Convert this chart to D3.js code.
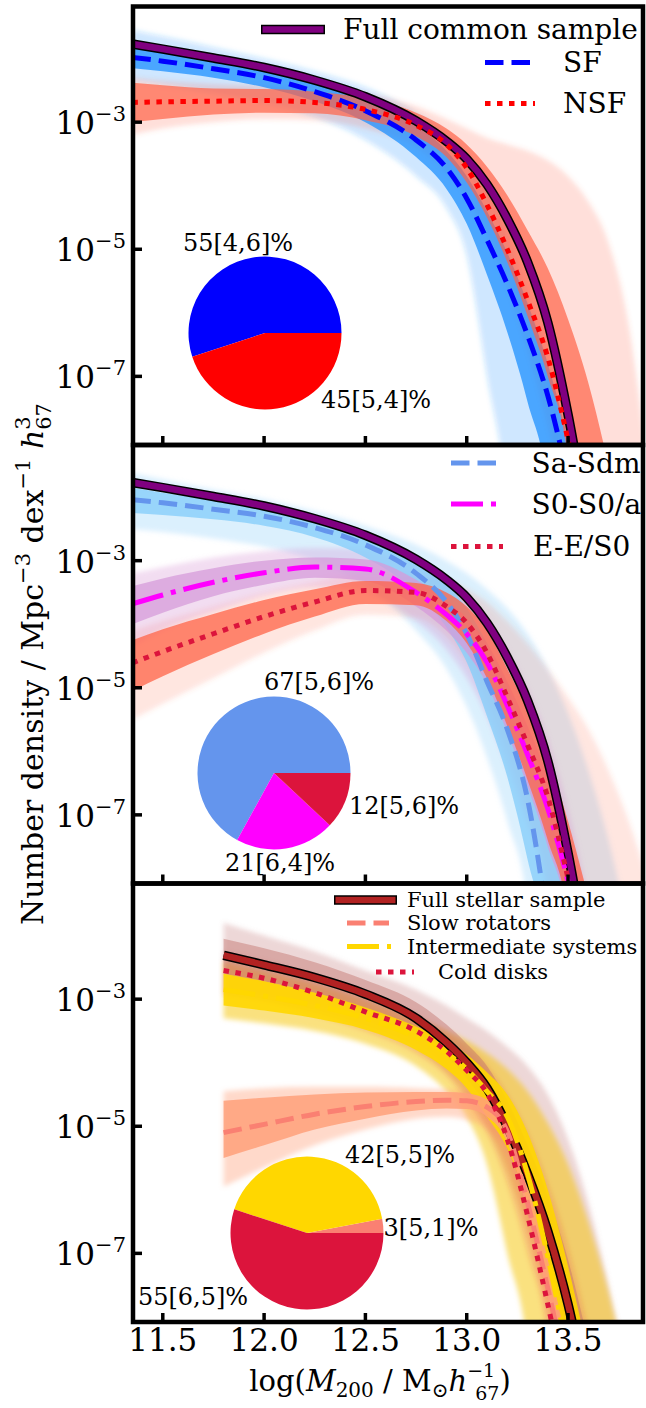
<!DOCTYPE html>
<html>
<head>
<meta charset="utf-8">
<script src="https://cdn.jsdelivr.net/npm/d3@7"></script>
<style>
  body { margin: 0; background: #fff; }
  svg { display: block; }
  text { font-family: "DejaVu Serif", serif; fill: #000; }
</style>
</head>
<body>
<svg id="chart" width="646" height="1408"></svg>
<script>
// ---- data (log10 number density vs log M200) ----
var xsTop = [11.35, 11.5, 11.75, 12.0, 12.25, 12.5, 12.75, 12.9, 13.0, 13.1, 13.2, 13.3, 13.4, 13.5, 13.6, 13.7, 13.8, 13.9];
var xsBottom = [11.8, 12.0, 12.25, 12.5, 12.75, 12.9, 13.0, 13.1, 13.2, 13.3, 13.4, 13.5, 13.6, 13.7, 13.8, 13.9];

// panel 1: full common sample, SF, NSF
var fullCommon = [-1.77, -1.85, -1.99, -2.14, -2.34, -2.6, -2.98, -3.3, -3.58, -3.98, -4.52, -5.2, -6.15, -7.6, -9.4];
var sfMain     = [-1.98, -2.04, -2.16, -2.3, -2.52, -2.82, -3.28, -3.72, -4.2, -4.85, -5.55, -6.35, -7.3, -8.6];
var sfInnerHi  = [-1.82, -1.9, -2.03, -2.17, -2.37, -2.63, -3.05, -3.45, -3.85, -4.4, -5.05, -5.85, -6.8, -8.0, -9.5];
var sfInnerLo  = [-2.15, -2.2, -2.3, -2.45, -2.67, -3.0, -3.55, -4.05, -4.6, -5.4, -6.3, -7.4, -8.8];
var sfOuterHi  = [-1.55, -1.65, -1.82, -2.0, -2.2, -2.45, -2.85, -3.2, -3.55, -4.0, -4.75, -5.7, -6.7, -8.3, -10];
var sfOuterLo  = [-2.35, -2.42, -2.55, -2.7, -2.92, -3.28, -3.85, -4.35, -5.1, -7.0, -9.0];
var nsfMain    = [-2.69, -2.68, -2.67, -2.66, -2.69, -2.8, -3.05, -3.35, -3.72, -4.3, -5.0, -5.8, -6.7, -8.0, -9.5];
var nsfInnerHi = [-2.38, -2.42, -2.47, -2.48, -2.52, -2.62, -2.85, -3.1, -3.35, -3.7, -4.15, -4.7, -5.3, -6.1, -7.1, -8.4];
var nsfInnerLo = [-3.0, -2.95, -2.88, -2.85, -2.86, -2.97, -3.22, -3.55, -3.95, -4.5, -5.2, -6.05, -7.0, -8.3];
var nsfOuterHi = [-2.3, -2.35, -2.4, -2.42, -2.45, -2.55, -2.75, -2.95, -3.1, -3.25, -3.35, -3.45, -3.6, -3.85, -4.25, -4.9, -6.2, -8.6];
var nsfOuterLo = [-3.2, -3.1, -3.0, -2.95, -2.97, -3.1, -3.4, -3.8, -4.2, -4.8, -5.6, -6.6, -7.8, -9.2];

// panel 2: morphology
var saMain     = [-2.04, -2.09, -2.19, -2.3, -2.48, -2.75, -3.2, -3.65, -4.15, -4.9, -5.65, -6.75, -8.7];
var saInnerHi  = [-1.85, -1.93, -2.05, -2.18, -2.35, -2.6, -3.0, -3.35, -3.75, -4.3, -4.95, -5.8, -6.85, -8.2, -9.8];
var saInnerLo  = [-2.25, -2.28, -2.35, -2.45, -2.63, -2.95, -3.5, -4.05, -4.6, -5.45, -6.4, -7.7, -9.3];
var saOuterHi  = [-1.62, -1.72, -1.88, -2.03, -2.22, -2.45, -2.75, -3.0, -3.2, -3.45, -3.75, -4.15, -4.7, -5.4, -6.3, -7.4, -8.8];
var saOuterLo  = [-2.5, -2.55, -2.65, -2.78, -3.0, -3.4, -4.1, -4.7, -5.3, -6.1, -7.1, -8.4];
var s0Main     = [-3.68, -3.54, -3.34, -3.19, -3.1, -3.13, -3.5, -3.85, -4.15, -4.6, -5.28, -6.05, -6.9, -8.05, -9.5];
var s0InnerHi  = [-3.4, -3.28, -3.12, -3.0, -2.95, -2.98, -3.3, -3.62, -3.9, -4.3, -4.9, -5.6, -6.4, -7.4, -8.6];
var s0InnerLo  = [-4.0, -3.82, -3.56, -3.38, -3.27, -3.32, -3.72, -4.1, -4.45, -4.95, -5.7, -6.55, -7.5, -8.7];
var s0OuterHi  = [-3.2, -3.1, -2.95, -2.85, -2.8, -2.82, -3.05, -3.3, -3.55, -3.9, -4.4, -5.0, -5.8, -6.9, -8.3];
var s0OuterLo  = [-4.35, -4.1, -3.8, -3.55, -3.42, -3.5, -3.95, -4.4, -4.85, -5.45, -6.25, -7.15, -8.25];
var eMain      = [-4.61, -4.43, -4.15, -3.88, -3.65, -3.47, -3.5, -3.72, -3.98, -4.45, -5.15, -5.9, -6.72, -8.0, -9.5];
var eInnerHi   = [-4.25, -4.08, -3.84, -3.62, -3.45, -3.32, -3.35, -3.5, -3.72, -4.1, -4.7, -5.35, -6.1, -7.1, -8.3];
var eInnerLo   = [-5.05, -4.82, -4.47, -4.15, -3.88, -3.68, -3.7, -3.95, -4.3, -4.85, -5.6, -6.45, -7.4, -8.6];
var eOuterHi   = [-4.1, -3.95, -3.72, -3.5, -3.33, -3.2, -3.2, -3.3, -3.45, -3.65, -3.95, -4.3, -4.7, -5.15, -5.65, -6.3, -7.1, -8.1];
var eOuterLo   = [-5.5, -5.25, -4.85, -4.45, -4.1, -3.85, -3.9, -4.2, -4.6, -5.2, -6.0, -7.0, -8.2];

// panel 3: kinematic classes
var stellarMain    = [-2.31, -2.46, -2.66, -2.92, -3.3, -3.68, -4.0, -4.4, -5.0, -5.75, -6.65, -7.8, -9.3];
var stellarInnerHi = [-2.05, -2.2, -2.42, -2.7, -3.05, -3.4, -3.7, -4.05, -4.6, -5.3, -6.1, -7.1, -8.4];
var stellarInnerLo = [-2.6, -2.72, -2.9, -3.15, -3.52, -3.9, -4.25, -4.7, -5.35, -6.15, -7.1, -8.4];
var stellarOuterHi = [-1.8, -2.0, -2.25, -2.55, -2.85, -3.1, -3.3, -3.5, -3.75, -4.05, -4.5, -5.2, -6.2, -7.5, -9.0];
var stellarOuterLo = [-2.9, -3.0, -3.15, -3.4, -3.75, -4.15, -4.5, -5.0, -5.7, -6.6, -7.7, -9.0];
var slowMain       = [-5.1, -4.97, -4.81, -4.69, -4.61, -4.59, -4.6, -4.7, -5.08, -6.2, -7.55, -9.0];
var slowInnerHi    = [-4.6, -4.55, -4.5, -4.47, -4.46, -4.46, -4.48, -4.58, -4.95, -5.85, -7.1, -8.5];
var slowInnerLo    = [-5.5, -5.3, -5.05, -4.88, -4.75, -4.72, -4.73, -4.85, -5.25, -6.35, -7.7, -9.0];
var slowOuterHi    = [-4.45, -4.4, -4.38, -4.38, -4.4, -4.42, -4.45, -4.55, -4.85, -5.6, -6.7, -8.1];
var slowOuterLo    = [-5.95, -5.65, -5.3, -5.05, -4.88, -4.85, -4.9, -5.05, -5.5, -6.6, -8.0, -9.2];
var interMain      = [-2.85, -2.95, -3.1, -3.3, -3.6, -3.85, -4.1, -4.45, -4.85, -5.75, -7.05, -8.6];
var interInnerHi   = [-2.6, -2.72, -2.9, -3.13, -3.43, -3.65, -3.87, -4.15, -4.5, -5.1, -6.0, -7.2, -8.6];
var interInnerLo   = [-3.1, -3.18, -3.3, -3.48, -3.8, -4.1, -4.4, -4.85, -5.35, -6.2, -7.4, -8.8];
var interOuterHi   = [-2.4, -2.55, -2.75, -3.0, -3.3, -3.5, -3.65, -3.85, -4.1, -4.45, -4.95, -5.6, -6.5, -7.6, -9.0];
var interOuterLo   = [-3.3, -3.38, -3.5, -3.7, -4.05, -4.45, -4.85, -5.6, -7.0, -8.5];
var coldMain       = [-2.55, -2.67, -2.9, -3.2, -3.5, -3.82, -4.12, -4.48, -5.2, -6.4, -7.8, -9.3];
var coldOuterHi    = [-2.25, -2.4, -2.65, -2.95, -3.25, -3.5, -3.75, -4.05, -4.5, -5.1, -5.9, -6.9, -8.2];
var coldOuterLo    = [-2.95, -3.05, -3.25, -3.5, -3.85, -4.2, -4.6, -5.1, -5.9, -7.0, -8.4];

// pie fractions (%)
var pie1Values = [55, 45];
var pie1Labels = ["55[4,6]%", "45[5,4]%"];
var pie2Values = [67, 21, 12];
var pie2Labels = ["67[5,6]%", "21[6,4]%", "12[5,6]%"];
var pie3Values = [3, 42, 55];
var pie3Labels = ["3[5,1]%", "42[5,5]%", "55[6,5]%"];

// axis ticks
var xTicks = [11.5, 12.0, 12.5, 13.0, 13.5];
var yTicks = [-3, -5, -7];

// ---- layout ----
var svg = d3.select("#chart");
var left = 133, right = 643;
var panelTop = [6.5, 445, 883.5], panelH = 438.5;
var x = d3.scaleLinear().domain([11.353, 13.87]).range([left, right]);
var FLOOR = -14;

var DASH = "18.5,8", DOT = "5.5,6.5", DASHDOT = "32,8,5,8";

svg.append("defs").append("filter").attr("id", "soft")
  .attr("x", "-5%").attr("y", "-5%").attr("width", "110%").attr("height", "110%")
  .append("feGaussianBlur").attr("stdDeviation", 2.5);

var panels = [
  {
    xs: xsTop,
    bands: [
      {hi: sfOuterHi, lo: sfOuterLo, color: "#1e90ff", op: 0.22, soft: true},
      {hi: nsfOuterHi, lo: nsfOuterLo, color: "#ff6347", op: 0.2, soft: true},
      {hi: sfInnerHi, lo: sfInnerLo, color: "#1e90ff", op: 0.75},
      {hi: nsfInnerHi, lo: nsfInnerLo, color: "#ff6347", op: 0.7}
    ],
    lines: [
      {v: fullCommon, color: "#800080", outline: true},
      {v: sfMain, color: "#0000ff", dash: DASH},
      {v: nsfMain, color: "#ff0000", dash: DOT}
    ],
    legend: [
      {label: "Full common sample", color: "#800080", outline: true, x1: 261, x2: 325, y: 29.5, tx: 343, fs: 28},
      {label: "SF", color: "#0000ff", dash: DASH, x1: 485, x2: 535, y: 62.5, tx: 563, fs: 28},
      {label: "NSF", color: "#ff0000", dash: DOT, x1: 485, x2: 535, y: 103.5, tx: 563, fs: 28}
    ],
    pie: {values: pie1Values, labels: pie1Labels, colors: ["#0000ff", "#ff0000"], cx: 265, cy: 333,
          labelPos: [[238, 243], [376, 400]]}
  },
  {
    xs: xsTop,
    bands: [
      {hi: saOuterHi, lo: saOuterLo, color: "#87cefa", op: 0.3, soft: true},
      {hi: eOuterHi, lo: eOuterLo, color: "#ff6347", op: 0.16, soft: true},
      {hi: s0OuterHi, lo: s0OuterLo, color: "#d48fd2", op: 0.3, soft: true},
      {hi: saInnerHi, lo: saInnerLo, color: "#87cefa", op: 0.8},
      {hi: s0InnerHi, lo: s0InnerLo, color: "#d69bd9", op: 0.75},
      {hi: eInnerHi, lo: eInnerLo, color: "#ff6347", op: 0.75}
    ],
    lines: [
      {v: fullCommon, color: "#800080", outline: true},
      {v: saMain, color: "#6495ed", dash: DASH},
      {v: s0Main, color: "#ff00ff", dash: DASHDOT},
      {v: eMain, color: "#dc143c", dash: DOT}
    ],
    legend: [
      {label: "Sa-Sdm", color: "#6495ed", dash: DASH, x1: 451, x2: 504, y: 463, tx: 531.5, fs: 28},
      {label: "S0-S0/a", color: "#ff00ff", dash: DASHDOT, x1: 451, x2: 503, y: 504, tx: 531.5, fs: 28},
      {label: "E-E/S0", color: "#dc143c", dash: DOT, x1: 451, x2: 503, y: 546.5, tx: 533, fs: 28}
    ],
    pie: {values: pie2Values, labels: pie2Labels, colors: ["#6495ed", "#ff00ff", "#dc143c"], cx: 274, cy: 773,
          labelPos: [[319, 682], [280, 863], [404, 806]]}
  },
  {
    xs: xsBottom,
    bands: [
      {hi: stellarOuterHi, lo: stellarOuterLo, color: "#c27a7a", op: 0.3, soft: true},
      {hi: interOuterHi, lo: interOuterLo, color: "#f5c400", op: 0.5, soft: true},
      {hi: slowOuterHi, lo: slowOuterLo, color: "#ffa07a", op: 0.4, soft: true},
      {hi: coldOuterHi, lo: coldOuterLo, color: "#dc143c", op: 0.14, soft: true},
      {hi: stellarInnerHi, lo: stellarInnerLo, color: "#c0706a", op: 0.45},
      {hi: interInnerHi, lo: interInnerLo, color: "#ffd700", op: 0.9},
      {hi: slowInnerHi, lo: slowInnerLo, color: "#ffa07a", op: 0.85}
    ],
    lines: [
      {v: stellarMain, color: "#b22222", outline: true},
      {v: slowMain, color: "#fa8072", dash: DASH},
      {v: interMain, color: "#ffd700", dash: DASHDOT},
      {v: coldMain, color: "#dc143c", dash: DOT}
    ],
    legend: [
      {label: "Full stellar sample", color: "#b22222", outline: true, x1: 334, x2: 397, y: 900, tx: 407, fs: 21},
      {label: "Slow rotators", color: "#fa8072", dash: DASH, x1: 347, x2: 389, y: 923, tx: 407, fs: 21},
      {label: "Intermediate systems", color: "#ffd700", dash: DASHDOT, x1: 347, x2: 391, y: 946.5, tx: 407, fs: 21},
      {label: "Cold disks", color: "#dc143c", dash: DOT, x1: 376, x2: 414, y: 972, tx: 438, fs: 21}
    ],
    pie: {values: pie3Values, labels: pie3Labels, colors: ["#fa8072", "#ffd700", "#dc143c"], cx: 307, cy: 1233,
          labelPos: [[431, 1228], [400, 1155], [193, 1297]]}
  }
];

panels.forEach(function(p, k) {
  var top = panelTop[k];
  var y = d3.scaleLinear().domain([-8.08, -1.18]).range([top + panelH, top]);
  var g = svg.append("g");

  svg.append("clipPath").attr("id", "clip" + k)
    .append("rect").attr("x", left).attr("y", top).attr("width", right - left).attr("height", panelH);
  var plot = g.append("g").attr("clip-path", "url(#clip" + k + ")");

  // bands of bootstrap curves
  p.bands.forEach(function(b) {
    var n = Math.max(b.hi.length, b.lo.length);
    var pts = d3.range(n).map(function(i) {
      return {x: p.xs[i], hi: i < b.hi.length ? b.hi[i] : FLOOR, lo: i < b.lo.length ? b.lo[i] : FLOOR};
    });
    var area = d3.area()
      .x(function(d) { return x(d.x); })
      .y0(function(d) { return y(d.lo); })
      .y1(function(d) { return y(d.hi); })
      .curve(d3.curveMonotoneX);
    var path = plot.append("path").attr("d", area(pts))
      .attr("fill", b.color).attr("fill-opacity", b.op).attr("stroke", "none");
    if (b.soft) path.attr("filter", "url(#soft)");
  });

  // main fits
  var line = d3.line()
    .x(function(d, i) { return x(p.xs[i]); })
    .y(function(d) { return y(d); })
    .curve(d3.curveMonotoneX);
  p.lines.forEach(function(l) {
    if (l.outline) {
      plot.append("path").attr("d", line(l.v)).attr("fill", "none")
        .attr("stroke", "#000").attr("stroke-width", 9.5);
      plot.append("path").attr("d", line(l.v)).attr("fill", "none")
        .attr("stroke", l.color).attr("stroke-width", 6.5);
    } else {
      plot.append("path").attr("d", line(l.v)).attr("fill", "none")
        .attr("stroke", l.color).attr("stroke-width", 5)
        .attr("stroke-dasharray", l.dash);
    }
  });

  // pie inset
  var pie = d3.pie().sort(null).value(function(d) { return d; })
    .startAngle(Math.PI / 2).endAngle(Math.PI / 2 - 2 * Math.PI);
  var arc = d3.arc().innerRadius(0).outerRadius(76.5);
  var pg = g.append("g").attr("transform", "translate(" + p.pie.cx + "," + p.pie.cy + ")");
  pg.selectAll("path").data(pie(p.pie.values)).enter().append("path")
    .attr("d", arc)
    .attr("fill", function(d, i) { return p.pie.colors[i]; });
  g.selectAll(".plab").data(p.pie.labels).enter().append("text")
    .attr("class", "plab")
    .attr("x", function(d, i) { return p.pie.labelPos[i][0]; })
    .attr("y", function(d, i) { return p.pie.labelPos[i][1]; })
    .attr("text-anchor", "middle")
    .attr("dominant-baseline", "central")
    .style("font-size", "24px")
    .text(function(d) { return d; });

  // legend
  p.legend.forEach(function(e) {
    if (e.outline) {
      g.append("line").attr("x1", e.x1).attr("x2", e.x2).attr("y1", e.y).attr("y2", e.y)
        .attr("stroke", "#000").attr("stroke-width", 9.5);
      g.append("line").attr("x1", e.x1 + 1.5).attr("x2", e.x2 - 1.5).attr("y1", e.y).attr("y2", e.y)
        .attr("stroke", e.color).attr("stroke-width", 6.5);
    } else {
      g.append("line").attr("x1", e.x1).attr("x2", e.x2).attr("y1", e.y).attr("y2", e.y)
        .attr("stroke", e.color).attr("stroke-width", 5).attr("stroke-dasharray", e.dash);
    }
    g.append("text").attr("x", e.tx).attr("y", e.y)
      .attr("dominant-baseline", "central")
      .style("font-size", e.fs + "px")
      .text(e.label);
  });

  // frame
  g.append("rect").attr("x", left).attr("y", top).attr("width", right - left).attr("height", panelH)
    .attr("fill", "none").attr("stroke", "#000").attr("stroke-width", 4.5);

  // y ticks (inward) and labels
  yTicks.forEach(function(t) {
    g.append("line").attr("x1", left).attr("x2", left + 9).attr("y1", y(t)).attr("y2", y(t))
      .attr("stroke", "#000").attr("stroke-width", 3.5);
    var tx = g.append("text").attr("x", 126).attr("y", y(t) + 12)
      .attr("text-anchor", "end").style("font-size", "31px");
    tx.append("tspan").text("10");
    tx.append("tspan").attr("dy", -13).style("font-size", "21px").text("\u2212" + (-t));
  });

  // x ticks (inward)
  xTicks.forEach(function(t) {
    g.append("line").attr("x1", x(t)).attr("x2", x(t)).attr("y1", top + panelH).attr("y2", top + panelH - 9)
      .attr("stroke", "#000").attr("stroke-width", 3.5);
  });
});

// x tick labels on the bottom panel
svg.selectAll(".xtl").data(xTicks).enter().append("text")
  .attr("class", "xtl")
  .attr("x", function(d) { return x(d); })
  .attr("y", 1351)
  .attr("text-anchor", "middle")
  .style("font-size", "31px")
  .text(function(d) { return d.toFixed(1); });

// x axis title
var xl = svg.append("text").attr("x", 380).attr("y", 1391).attr("text-anchor", "middle").style("font-size", "29px");
xl.append("tspan").text("log(");
xl.append("tspan").style("font-style", "italic").text("M");
xl.append("tspan").attr("dy", 6).style("font-size", "20px").text("200");
xl.append("tspan").attr("dy", -6).text(" / M");
xl.append("tspan").attr("dy", 6).style("font-size", "20px").text("\u2299");
xl.append("tspan").attr("dy", -6).style("font-style", "italic").text("h");
xl.append("tspan").attr("dy", -14).style("font-size", "19px").text("\u22121");
xl.append("tspan").attr("dx", -20).attr("dy", 22.5).style("font-size", "19px").text("67");
xl.append("tspan").attr("dy", -8.5).text(")");

// y axis title
var yl = svg.append("text").attr("transform", "translate(43,664) rotate(-90)")
  .attr("text-anchor", "middle").style("font-size", "30px");
yl.append("tspan").text("Number density / Mpc");
yl.append("tspan").attr("dy", -13).style("font-size", "21px").text("\u22123");
yl.append("tspan").attr("dy", 13).text(" dex");
yl.append("tspan").attr("dy", -13).style("font-size", "21px").text("\u22121");
yl.append("tspan").attr("dy", 13).text(" ");
yl.append("tspan").style("font-style", "italic").text("h");
yl.append("tspan").attr("dy", -13).style("font-size", "21px").text("3");
yl.append("tspan").attr("dx", -13.4).attr("dy", 21).style("font-size", "21px").text("67");
</script>
</body>
</html>
